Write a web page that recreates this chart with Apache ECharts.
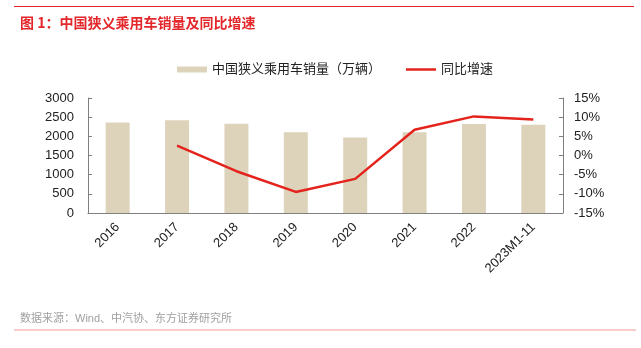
<!DOCTYPE html>
<html>
<head>
<meta charset="utf-8">
<script src="https://cdn.jsdelivr.net/npm/echarts@6/dist/echarts.min.js"></script>
<style>
html,body{margin:0;padding:0;background:#fff;}
#chart{width:641px;height:348px;}
</style>
</head>
<body>
<div id="chart"></div>
<script>
const categories = ['2016','2017','2018','2019','2020','2021','2022','2023M1-11'];
const salesValues = [2363, 2420, 2330, 2105, 1972, 2105, 2320, 2300];
const growthValues = [null, 2.6, -4.1, -9.5, -6.1, 6.7, 10.2, 9.4];
const leftTicks = {min: 0, max: 3000, interval: 500};
const rightTicks = {min: -15, max: 15, interval: 5};
const salesName = '中国狭义乘用车销量（万辆）';
const growthName = '同比增速';
const titleText = '图 1：中国狭义乘用车销量及同比增速';
const sourceText = '数据来源：Wind、中汽协、东方证券研究所';

const font = '"Liberation Sans", Arial, "Noto Sans CJK SC", sans-serif';
const chart = echarts.init(document.getElementById('chart'), null, {renderer: 'canvas'});
const axisColor = '#7f7f7f';
chart.setOption({
  animation: false,
  backgroundColor: '#fff',
  textStyle: {fontFamily: font},
  title: [{
    text: titleText, left: 15, top: 11,
    textStyle: {color: '#e3272b', fontSize: 14, fontWeight: 'bold', fontFamily: '"Noto Sans CJK SC", sans-serif'}
  }, {
    text: sourceText, left: 15, top: 308,
    textStyle: {color: '#a0a0a0', fontSize: 11, fontWeight: 'normal', fontFamily: font}
  }],
  graphic: [
    {type: 'line', shape: {x1: 14, y1: 6.5, x2: 634, y2: 6.5}, style: {stroke: '#e3272b', lineWidth: 1}},
    {type: 'line', shape: {x1: 14, y1: 330, x2: 636, y2: 330}, style: {stroke: '#f29a9a', lineWidth: 1.2}}
  ],
  legend: {
    left: 172, top: 58,
    itemGap: 25, itemWidth: 30, itemHeight: 6,
    textStyle: {fontSize: 13, color: '#222', fontFamily: font},
    data: [
      {name: salesName, icon: 'rect'},
      {name: growthName, icon: 'path://M0,0H12V1H0Z', itemStyle: {color: '#e3231c'}}
    ]
  },
  grid: {left: 88, right: 78, top: 98, bottom: 135, containLabel: false},
  xAxis: {
    type: 'category', data: categories,
    axisLine: {lineStyle: {color: axisColor}},
    axisTick: {inside: true, length: 4, lineStyle: {color: axisColor}},
    axisLabel: {rotate: 45, fontSize: 13, color: '#222', margin: 12, interval: 0}
  },
  yAxis: [{
    type: 'value', min: leftTicks.min, max: leftTicks.max, interval: leftTicks.interval,
    axisLine: {show: true, lineStyle: {color: axisColor}},
    axisTick: {show: true, inside: true, length: 4, lineStyle: {color: axisColor}},
    axisLabel: {fontSize: 13, color: '#222', margin: 14, formatter: function (v) { return String(v); }},
    splitLine: {show: false}
  }, {
    type: 'value', min: rightTicks.min, max: rightTicks.max, interval: rightTicks.interval,
    position: 'right',
    axisLine: {show: true, lineStyle: {color: axisColor}},
    axisTick: {show: true, inside: true, length: 4, lineStyle: {color: axisColor}},
    axisLabel: {fontSize: 13, color: '#222', margin: 11, formatter: '{value}%'},
    splitLine: {show: false}
  }],
  series: [{
    name: salesName, type: 'bar', data: salesValues, barWidth: 24,
    itemStyle: {color: '#ddd3bb'}
  }, {
    name: growthName, type: 'line', yAxisIndex: 1, data: growthValues,
    symbol: 'none', connectNulls: false,
    lineStyle: {color: '#e3231c', width: 2.5}, itemStyle: {color: '#e3231c'}
  }]
});
</script>
</body>
</html>
